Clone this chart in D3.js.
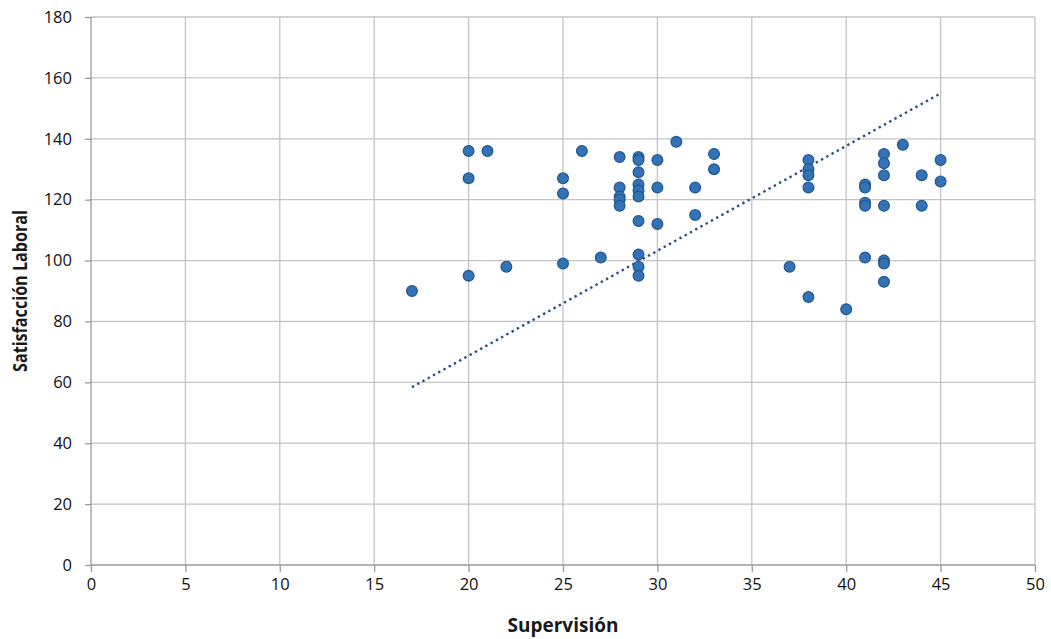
<!DOCTYPE html>
<meta charset="utf-8">
<script src="https://d3js.org/d3.v7.min.js"></script>
<style>
  body { margin: 0; background: #fff; }
  text { font-family: "Open Sans", sans-serif; fill: #1a1a1a; }
</style>
<div id="chart"></div>
<script>

// Supervisión (x) and Satisfacción Laboral (y), one entry per respondent
var supervision = [17, 20, 20, 20, 21, 22, 25, 25, 25, 26, 27,
                   28, 28, 28, 28, 28,
                   29, 29, 29, 29, 29, 29, 29, 29, 29, 29,
                   30, 30, 30, 31, 32, 32, 33, 33, 37,
                   38, 38, 38, 38, 38, 40,
                   41, 41, 41, 41, 41,
                   42, 42, 42, 42, 42, 42, 42,
                   43, 44, 44, 45, 45];
var satisfaccion = [90, 136, 127, 95, 136, 98, 127, 122, 99, 136, 101,
                    134, 124, 121, 120, 118,
                    134, 133, 129, 125, 123, 121, 113, 102, 98, 95,
                    133, 124, 112, 139, 124, 115, 135, 130, 98,
                    133, 130, 128, 124, 88, 84,
                    125, 124, 119, 118, 101,
                    135, 132, 128, 118, 100, 99, 93,
                    138, 128, 118, 133, 126];

// dotted trend line, end points
var trendX = [17, 45];
var trendY = [58.4, 154.9];

var xTicks = [0, 5, 10, 15, 20, 25, 30, 35, 40, 45, 50];
var yTicks = [0, 20, 40, 60, 80, 100, 120, 140, 160, 180];

var W = 1051, H = 639;
var margin = {top: 17, right: 16, bottom: 74, left: 91},
    width = W - margin.left - margin.right,
    height = H - margin.top - margin.bottom;

var x = d3.scaleLinear().domain([0, 50]).range([0, width]);
var y = d3.scaleLinear().domain([0, 180]).range([height, 0]);

var svg = d3.select("#chart").append("svg")
    .attr("width", W)
    .attr("height", H)
  .append("g")
    .attr("transform", "translate(" + margin.left + "," + margin.top + ")");

// grid
svg.append("g").selectAll("line")
    .data(xTicks.slice(1))
  .enter().append("line")
    .attr("x1", d => x(d)).attr("x2", d => x(d))
    .attr("y1", 0).attr("y2", height)
    .style("stroke", "#c3c3c3").style("stroke-width", 1.3);

svg.append("g").selectAll("line")
    .data(yTicks.slice(1))
  .enter().append("line")
    .attr("x1", 0).attr("x2", width)
    .attr("y1", d => y(d)).attr("y2", d => y(d))
    .style("stroke", "#c3c3c3").style("stroke-width", 1.3);

// axes
var xAxis = d3.axisBottom(x).tickValues(xTicks).tickSize(7).tickPadding(6);
var yAxis = d3.axisLeft(y).tickValues(yTicks).tickSize(6).tickPadding(13);

var gx = svg.append("g")
    .attr("transform", "translate(0," + height + ")")
    .call(xAxis);
var gy = svg.append("g").call(yAxis);

[gx, gy].forEach(function(g) {
  g.selectAll("path, line").style("stroke", "#9a9a9a").style("stroke-width", 1.3);
  g.selectAll("text")
    .style("font-family", "'Open Sans', sans-serif")
    .style("font-size", "16.5px")
    .style("fill", "#111");
});
gy.select(".domain").attr("d", "M0," + height + "V0");
gx.select(".domain").attr("d", "M0,0H" + width);

// trend line
svg.append("line")
    .attr("x1", x(trendX[0])).attr("y1", y(trendY[0]))
    .attr("x2", x(trendX[1])).attr("y2", y(trendY[1]))
    .style("stroke", "#2a4d8a")
    .style("stroke-width", 2.4)
    .style("stroke-dasharray", "2.4,3.6");

// points
svg.append("g").selectAll("circle")
    .data(supervision.map((s, i) => ({s: s, v: satisfaccion[i]})))
  .enter().append("circle")
    .attr("cx", d => x(d.s))
    .attr("cy", d => y(d.v))
    .attr("r", 5.4)
    .style("fill", "#3372b4")
    .style("stroke", "#215790")
    .style("stroke-width", 1.2);

// axis titles
svg.append("text")
    .attr("x", width / 2)
    .attr("y", height + 67)
    .attr("text-anchor", "middle")
    .style("font-size", "19px")
    .style("font-weight", "bold")
    .text("Supervisión");

// squeezed along its length, the original uses a narrower face
svg.append("text")
    .attr("transform", "translate(" + (27 - margin.left) + "," + (height / 2) + ") rotate(-90) scale(0.85,1)")
    .attr("text-anchor", "middle")
    .style("font-size", "19px")
    .style("font-weight", "bold")
    .text("Satisfacción Laboral");

</script>
